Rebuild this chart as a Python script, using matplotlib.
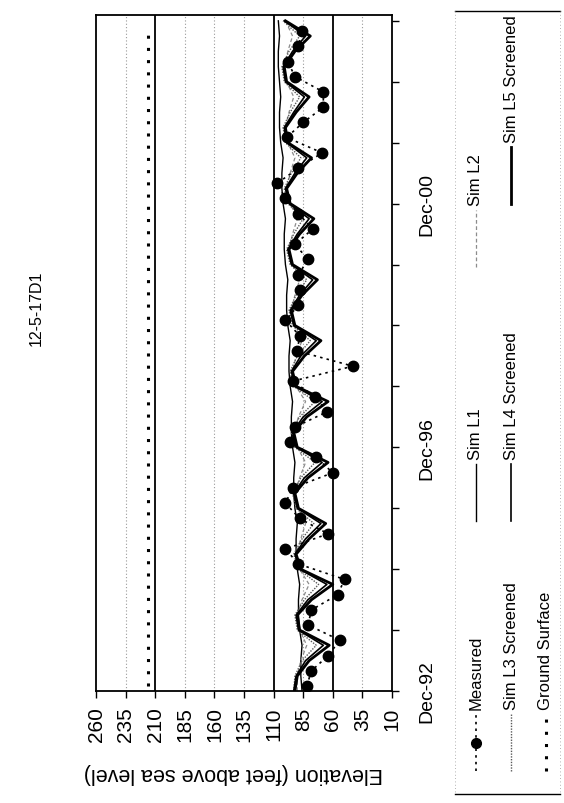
import matplotlib.pyplot as plt
import pandas as pd

plt.rcParams['font.family'] = ['Liberation Sans', 'DejaVu Sans']

# well 12-5-17D1: measured and simulated water levels (ft above sea level)
meas_dates = ['1993-01', '1993-04', '1993-07', '1993-10', '1994-01', '1994-04', '1994-07', '1994-10',
              '1995-01', '1995-04', '1995-07', '1995-10', '1996-01', '1996-04', '1996-07', '1996-10',
              '1997-01', '1997-04', '1997-07', '1997-10', '1998-01', '1998-04', '1998-07', '1998-10',
              '1999-01', '1999-04', '1999-07', '1999-10', '2000-01', '2000-04', '2000-07', '2000-10',
              '2001-01', '2001-04', '2001-07', '2001-10', '2002-01', '2002-04', '2002-07', '2002-10',
              '2003-01', '2003-04', '2003-07', '2003-10']
meas_elev = [82, 78, 64, 54, 81, 78, 56, 50,
             89, 100, 64, 88, 100, 94, 60, 74,
             96, 92, 65, 75, 94, 43, 90, 88,
             100, 89, 88, 89, 81, 92, 77, 89,
             100, 107, 89, 69, 99, 85, 68, 68,
             92, 98, 89, 86]

sim_dates = ['1992-12',
             '1993-03', '1993-06', '1993-09', '1993-12', '1994-03', '1994-06', '1994-09', '1994-12',
             '1995-03', '1995-06', '1995-09', '1995-12', '1996-03', '1996-06', '1996-09', '1996-12',
             '1997-03', '1997-06', '1997-09', '1997-12', '1998-03', '1998-06', '1998-09', '1998-12',
             '1999-03', '1999-06', '1999-09', '1999-12', '2000-03', '2000-06', '2000-09', '2000-12',
             '2001-03', '2001-06', '2001-09', '2001-12', '2002-03', '2002-06', '2002-09', '2002-12',
             '2003-03', '2003-06', '2003-09', '2003-12']
sim_l1 = [86,
          87, 87, 86, 88, 89, 89, 88, 90, 91, 91, 90, 92, 93, 93, 92, 94,
          95, 95, 94, 96, 97, 97, 96, 98, 99, 99, 98, 100, 101, 101, 100, 102,
          103, 103, 102, 104, 105, 105, 104, 105, 106, 106, 105, 106]
sim_l2 = [90,
          90, 87, 82, 88, 90, 86, 80, 88, 91, 87, 83, 89, 92, 88, 83, 90,
          93, 89, 83, 91, 94, 91, 86, 93, 95, 92, 88, 94, 97, 94, 90, 96,
          99, 96, 92, 98, 100, 97, 93, 99, 101, 98, 94, 100]
sim_l3 = [93,
          92, 86, 74, 90, 92, 84, 72, 89, 93, 86, 76, 91, 94, 87, 75, 92,
          95, 88, 75, 93, 96, 90, 79, 94, 97, 91, 82, 96, 99, 93, 85, 98,
          101, 95, 87, 100, 102, 96, 88, 101, 103, 97, 88, 102]
sim_l4 = [93,
          91, 83, 68, 89, 91, 81, 65, 88, 92, 83, 70, 90, 93, 84, 69, 91,
          94, 85, 69, 92, 95, 87, 74, 93, 96, 88, 77, 95, 98, 90, 80, 97,
          100, 92, 82, 99, 101, 93, 84, 100, 102, 94, 83, 101]
sim_l5 = [92,
          90, 80, 63, 88, 90, 78, 60, 87, 91, 80, 66, 89, 92, 81, 64, 90,
          93, 82, 64, 91, 94, 84, 70, 92, 95, 86, 73, 94, 97, 88, 76, 96,
          99, 90, 78, 98, 100, 91, 80, 99, 101, 92, 79, 100]
ground_surface = 216
layer_lines = [210, 110, 60]

elev_ticks = [260, 235, 210, 185, 160, 135, 110, 85, 60, 35, 10]
date_ticks = ['1992-12', '1993-12', '1994-12', '1995-12', '1996-12', '1997-12',
              '1998-12', '1999-12', '2000-12', '2001-12', '2002-12', '2003-12']
date_labels = ['Dec-92', '', '', '', 'Dec-96', '', '', '', 'Dec-00', '', '', '']

md = pd.to_datetime(meas_dates)
sd = pd.to_datetime(sim_dates)

styles = {
    'Measured': dict(color='black', ls=(0, (1.5, 2.5)), lw=1.2, marker='o', ms=7.5),
    'Sim L1': dict(color='black', ls='-', lw=1.0),
    'Sim L2': dict(color='0.55', ls=(0, (3, 2)), lw=0.9),
    'Sim L3 Screened': dict(color='0.35', ls=(0, (1, 1)), lw=1.0),
    'Sim L4 Screened': dict(color='black', ls='-', lw=1.2),
    'Sim L5 Screened': dict(color='black', ls='-', lw=2.0),
    'Ground Surface': dict(color='black', ls=(0, (1, 3)), lw=2.2),
}

fig = plt.figure(figsize=(5.64, 8.04), dpi=100)
# page is turned sideways: elevation runs along x (high on the left), time runs up
ax = fig.add_axes([96 / 564, 1 - 692 / 804, 296 / 564, 676 / 804])

for v in elev_ticks:
    if v not in layer_lines and v not in (260, 10):
        ax.axvline(v, color='0.6', ls=(0, (1, 2)), lw=0.8, zorder=0)
for v in layer_lines:
    ax.axvline(v, color='black', lw=1.3, zorder=1)

ax.plot([ground_surface, ground_surface], [md[0], md[-1]], **styles['Ground Surface'])
ax.plot(sim_l1, sd, **styles['Sim L1'])
ax.plot(sim_l2, sd, **styles['Sim L2'])
ax.plot(sim_l3, sd, **styles['Sim L3 Screened'])
ax.plot(sim_l4, sd, **styles['Sim L4 Screened'])
ax.plot(sim_l5, sd, **styles['Sim L5 Screened'])
ax.plot(meas_elev, md, **styles['Measured'])

ax.set_xlim(260, 10)
ax.set_ylim(pd.Timestamp('1992-12-01'), pd.Timestamp('2004-01-05'))

ax.set_xticks(elev_ticks)
ax.set_xticklabels([str(v) for v in elev_ticks], rotation=90, fontsize=15)
ax.tick_params(axis='x', direction='out', length=5, width=1, pad=6)
ax.set_xlabel('Elevation (feet above sea level)', rotation=180, fontsize=15.5, labelpad=12)
ax.xaxis.set_label_coords(0.465, -0.12)
ax.xaxis.label.set_va('center')

ax.yaxis.tick_right()
ax.set_yticks(pd.to_datetime(date_ticks))
ax.set_yticklabels(date_labels, rotation=90, va='center', fontsize=14)
ax.tick_params(axis='y', direction='out', length=5, width=1, pad=14)

for s in ax.spines.values():
    s.set_linewidth(1.3)

fig.text(36 / 564, 1 - 308 / 804, '12-5-17D1', rotation=90, ha='center', va='center', fontsize=11.5)

# legend box, drawn by hand so it can lie sideways
leg = fig.add_axes([453 / 564, 1 - 798 / 804, 109 / 564, 790 / 804])
leg.set_xlim(453, 562)
leg.set_ylim(798, 8)
leg.axis('off')
leg.plot([455, 560], [12, 12], color='black', lw=1.0)
leg.plot([455, 560], [795, 795], color='black', lw=1.0)
leg.plot([455, 455], [12, 795], color='0.6', ls=(0, (1, 3)), lw=0.6)
leg.plot([560, 560], [12, 795], color='0.6', ls=(0, (1, 3)), lw=0.6)

entries = [('Measured', 476, 772), ('Sim L1', 476, 522), ('Sim L2', 476, 268),
           ('Sim L3 Screened', 511, 772), ('Sim L4 Screened', 511, 522), ('Sim L5 Screened', 511, 205),
           ('Ground Surface', 546, 772)]
for name, x0, y0 in entries:
    st = dict(styles[name])
    st.pop('marker', None)
    st.pop('ms', None)
    leg.plot([x0, x0], [y0, y0 - 57], **st)
    if name == 'Measured':
        leg.plot([x0], [y0 - 28], marker='o', ms=7, color='black')
    leg.text(x0, y0 - 62, name, rotation=90, rotation_mode='anchor',
             ha='left', va='center', fontsize=12)

fig.savefig('out.png', dpi=100)
